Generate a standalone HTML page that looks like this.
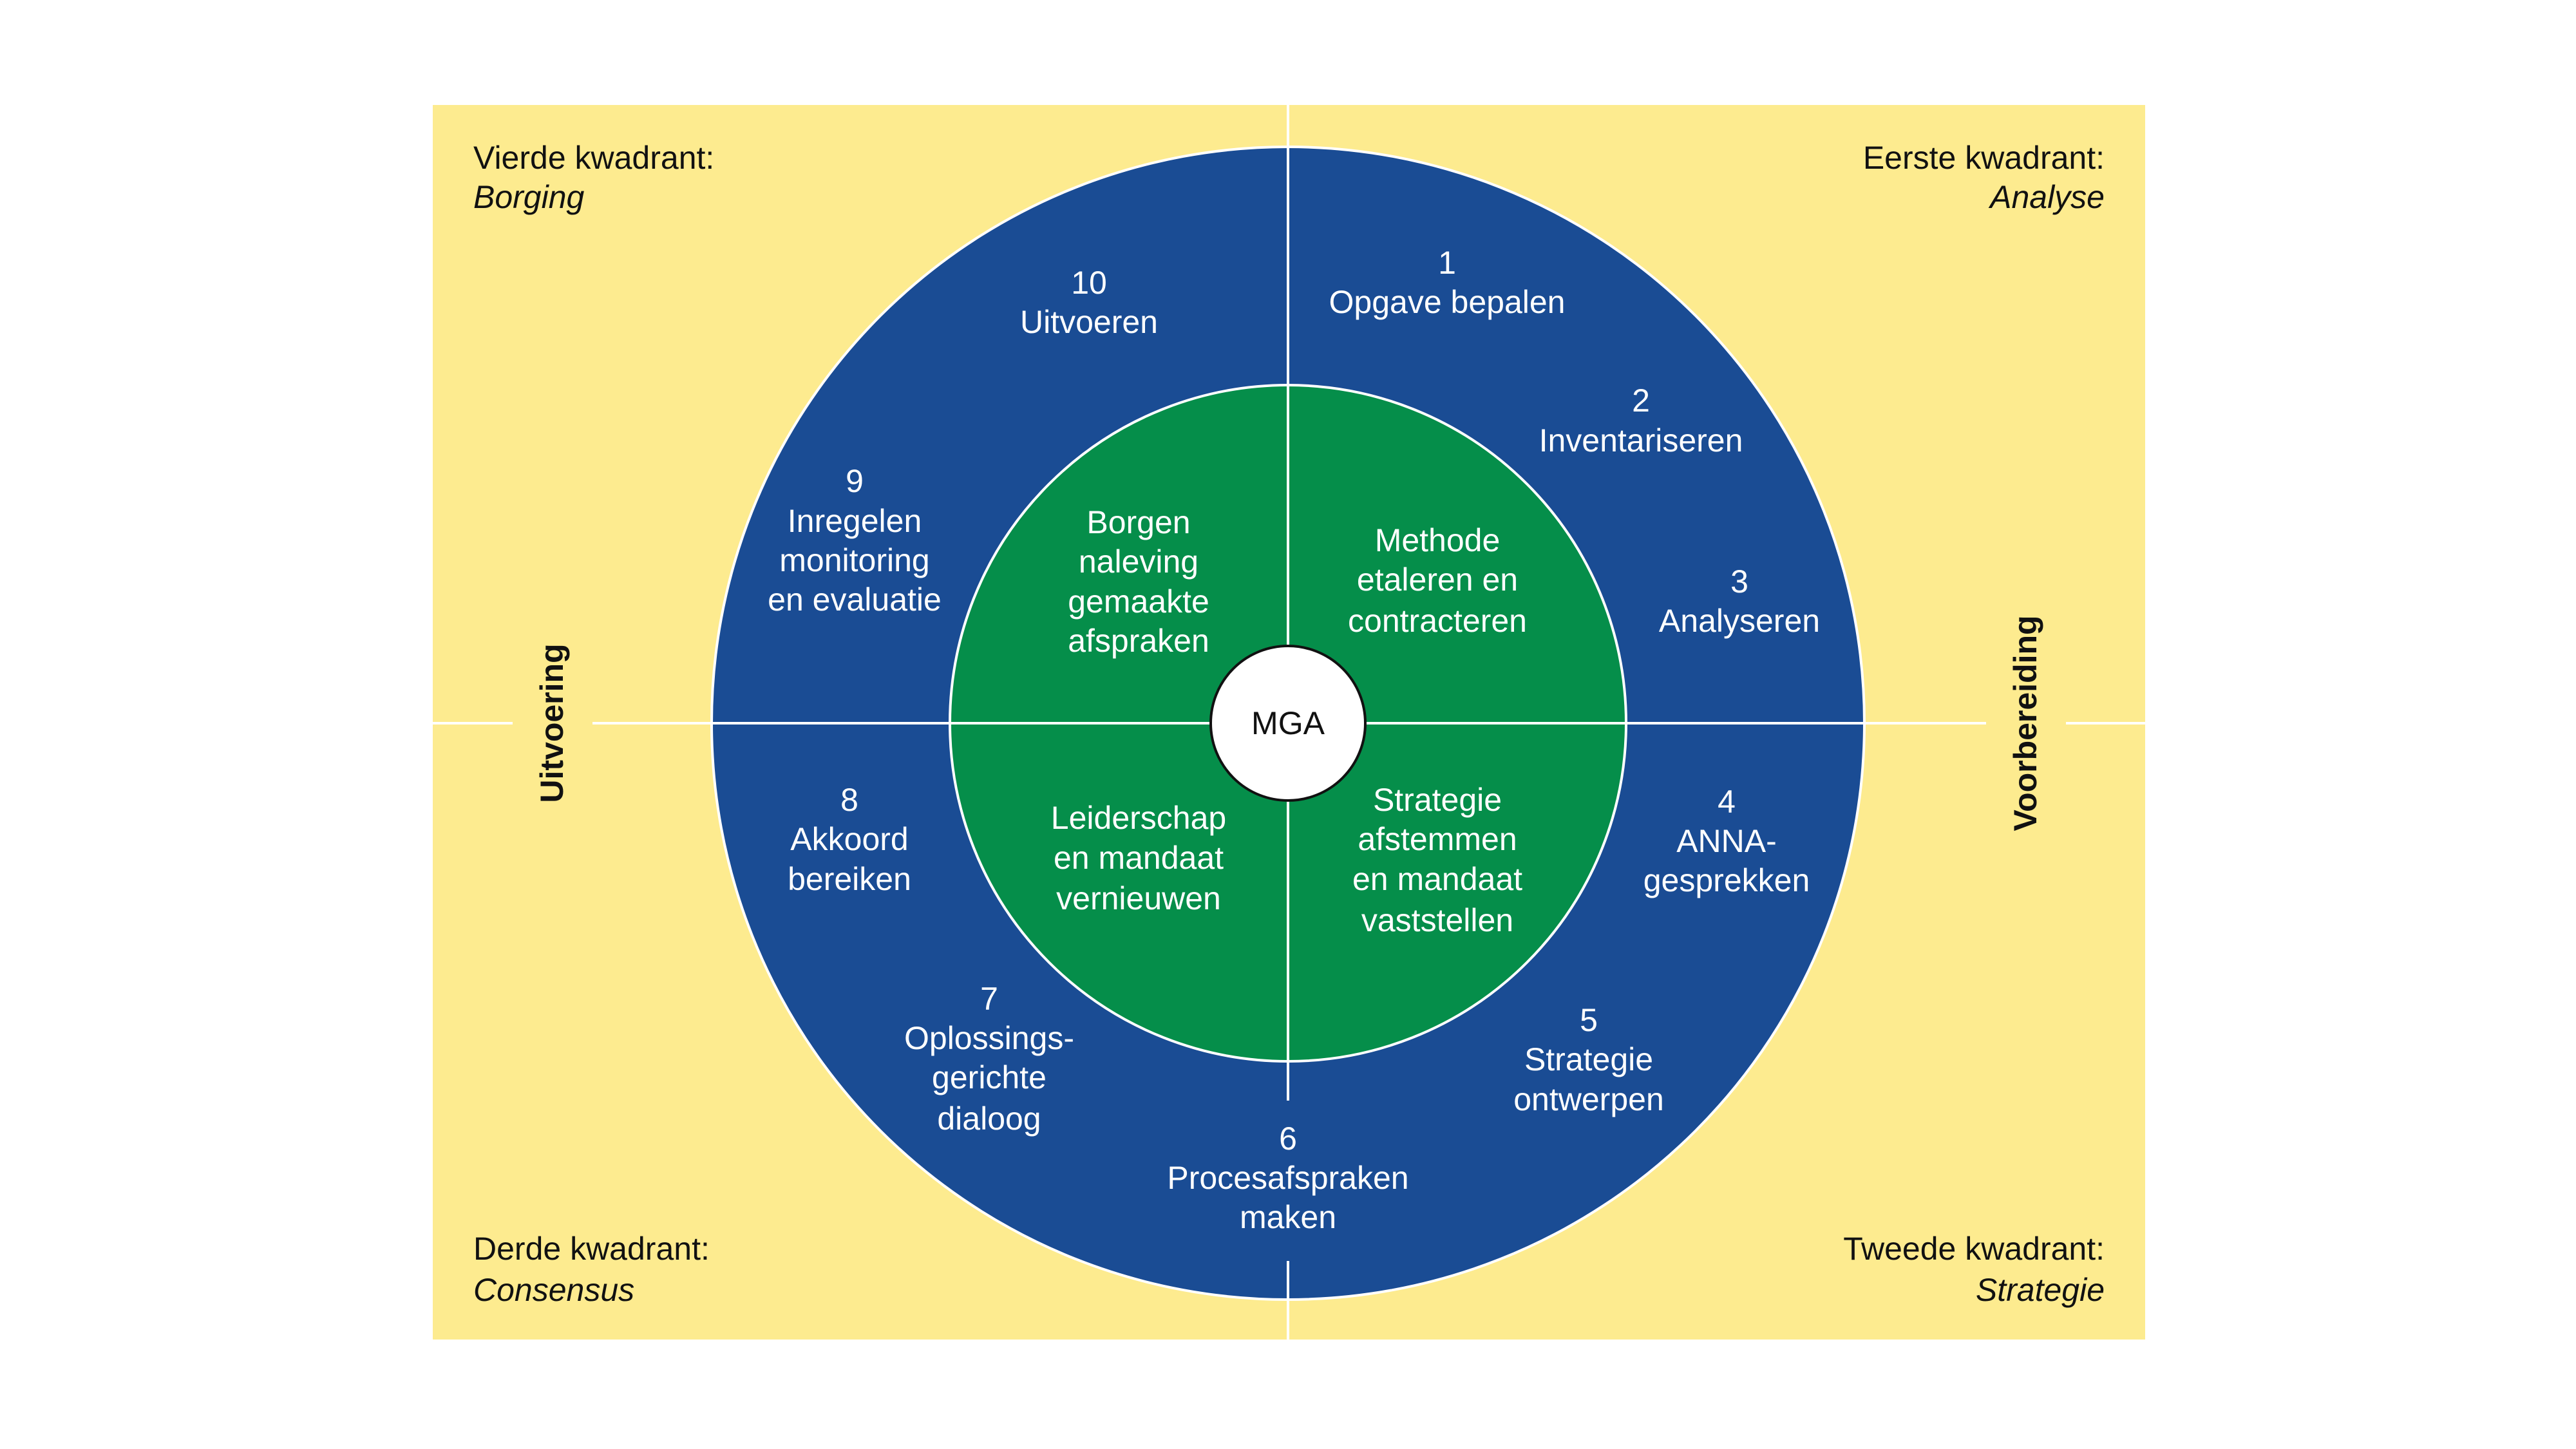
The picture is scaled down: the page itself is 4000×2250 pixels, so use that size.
<!DOCTYPE html>
<html><head><meta charset="utf-8"><style>
html,body{margin:0;padding:0;background:#fff}
svg{display:block}
text{font-family:"Liberation Sans",sans-serif}
</style></head><body>
<svg width="4000" height="2250" viewBox="0 0 4000 2250" xmlns="http://www.w3.org/2000/svg">
<rect x="0" y="0" width="4000" height="2250" fill="#fff"/>
<rect x="672" y="163" width="2659" height="1917" fill="#FDEB8F"/>
<circle cx="2000" cy="1123" r="895" fill="#1A4C94" stroke="#fff" stroke-width="4"/>
<circle cx="2000" cy="1123" r="525" fill="#058E4A" stroke="#fff" stroke-width="4"/>
<g stroke="#fff" stroke-width="4">
<line x1="2000" y1="163" x2="2000" y2="1123"/>
<line x1="2000" y1="1123" x2="2000" y2="1709"/>
<line x1="2000" y1="1958" x2="2000" y2="2080"/>
<line x1="672" y1="1123" x2="796" y2="1123"/>
<line x1="920" y1="1123" x2="3084" y2="1123"/>
<line x1="3208" y1="1123" x2="3331" y2="1123"/>
</g>
<circle cx="2000" cy="1123" r="120" fill="#fff" stroke="#111" stroke-width="4"/>
<text x="2000" y="1123" font-size="50" text-anchor="middle" dominant-baseline="central" fill="#111">MGA</text>
<g font-size="50" fill="#fff" text-anchor="middle" dominant-baseline="central">
<text x="1691" y="439">10</text><text x="1691" y="500">Uitvoeren</text>
<text x="2247" y="408">1</text><text x="2247" y="469">Opgave bepalen</text>
<text x="2548" y="622">2</text><text x="2548" y="684">Inventariseren</text>
<text x="2701" y="903">3</text><text x="2701" y="964">Analyseren</text>
<text x="2681" y="1245">4</text><text x="2681" y="1306">ANNA-</text><text x="2681" y="1367">gesprekken</text>
<text x="2467" y="1584">5</text><text x="2467" y="1645">Strategie</text><text x="2467" y="1707">ontwerpen</text>
<text x="2000" y="1768">6</text><text x="2000" y="1829">Procesafspraken</text><text x="2000" y="1890">maken</text>
<text x="1536" y="1551">7</text><text x="1536" y="1612">Oplossings-</text><text x="1536" y="1673">gerichte</text><text x="1536" y="1737">dialoog</text>
<text x="1319" y="1242">8</text><text x="1319" y="1303">Akkoord</text><text x="1319" y="1365">bereiken</text>
<text x="1327" y="747">9</text><text x="1327" y="809">Inregelen</text><text x="1327" y="870">monitoring</text><text x="1327" y="931">en evaluatie</text>
<text x="1768" y="811">Borgen</text><text x="1768" y="872">naleving</text><text x="1768" y="934">gemaakte</text><text x="1768" y="995">afspraken</text>
<text x="2232" y="839">Methode</text><text x="2232" y="900">etaleren en</text><text x="2232" y="964">contracteren</text>
<text x="1768" y="1270">Leiderschap</text><text x="1768" y="1332">en mandaat</text><text x="1768" y="1395">vernieuwen</text>
<text x="2232" y="1242">Strategie</text><text x="2232" y="1303">afstemmen</text><text x="2232" y="1365">en mandaat</text><text x="2232" y="1429">vaststellen</text>
</g>
<g font-size="50" fill="#111" dominant-baseline="central">
<text x="735" y="245">Vierde kwadrant:</text><text x="735" y="306" font-style="italic">Borging</text>
<text x="735" y="1939">Derde kwadrant:</text><text x="735" y="2003" font-style="italic">Consensus</text>
<text x="3268" y="245" text-anchor="end">Eerste kwadrant:</text><text x="3268" y="306" text-anchor="end" font-style="italic">Analyse</text>
<text x="3268" y="1939" text-anchor="end">Tweede kwadrant:</text><text x="3268" y="2003" text-anchor="end" font-style="italic">Strategie</text>
</g>
<g font-size="50" font-weight="bold" fill="#111" text-anchor="middle" dominant-baseline="central">
<text transform="translate(857,1123) rotate(-90)">Uitvoering</text>
<text transform="translate(3145,1123) rotate(-90)">Voorbereiding</text>
</g>
</svg>
</body></html>
